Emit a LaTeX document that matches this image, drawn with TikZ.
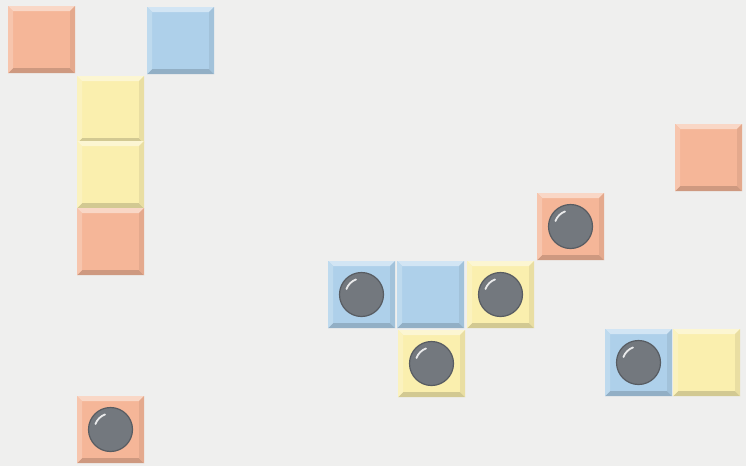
\documentclass[tikz,border=0pt]{standalone}
\usetikzlibrary{calc}
\definecolor{bg}{RGB}{239,239,238}
\definecolor{bor}{RGB}{245,182,152}
\definecolor{bbl}{RGB}{174,208,234}
\definecolor{byl}{RGB}{250,239,174}
\definecolor{ballc}{RGB}{115,120,126}
\definecolor{balle}{RGB}{88,92,98}
\newcommand{\blk}[3]{%
  \fill[#3] (#1,#2) rectangle ++(67,67);
  \fill[#3!55!white] (#1,#2) -- ++(67,0) -- ++(-5,5) -- ++(-57,0) -- cycle;
  \fill[#3!84!black] (#1,#2) ++(0,67) -- ++(67,0) -- ++(-5,-5) -- ++(-57,0) -- cycle;
  \fill[#3!80!white] (#1,#2) -- ++(5,5) -- ++(0,57) -- ++(-5,5) -- cycle;
  \fill[#3!93!black] (#1,#2) ++(67,0) -- ++(-5,5) -- ++(0,57) -- ++(5,5) -- cycle;
}
\newcommand{\ballat}[2]{%
  \fill[ballc,draw=balle,line width=1.2pt] (#1,#2) circle (22);
  \draw[white,line width=1.8pt,opacity=0.85,line cap=round] (#1,#2) ++(200:16) arc (200:250:16);
}
\begin{document}
\begin{tikzpicture}[x=1pt,y=-1pt]
\useasboundingbox (0,0) rectangle (746,466);
\fill[bg] (0,0) rectangle (746,466);
% left group
\blk{8}{6}{bor}
\blk{147}{7}{bbl}
\blk{77}{76}{byl}
\blk{77}{141}{byl}
\blk{77}{208}{bor}
\blk{77}{396}{bor}
\ballat{110.5}{429.5}
% right group
\blk{675}{124}{bor}
\blk{537}{193}{bor}
\ballat{570.5}{226.5}
\blk{328}{261}{bbl}
\ballat{361.5}{294.5}
\blk{397}{261}{bbl}
\blk{467}{261}{byl}
\ballat{500.5}{294.5}
\blk{398}{330}{byl}
\ballat{431.5}{363.5}
\blk{605}{329}{bbl}
\ballat{638.5}{362.5}
\blk{673}{329}{byl}
\end{tikzpicture}
\end{document}
